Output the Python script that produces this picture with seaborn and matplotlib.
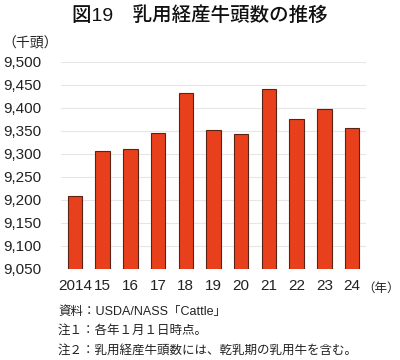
import matplotlib
matplotlib.use('Agg')
import matplotlib.pyplot as plt
import seaborn as sns
import pandas as pd
from matplotlib.ticker import FuncFormatter, MultipleLocator

# Data: dairy cows (thousand head), Jan 1 each year
years = ['2014', '15', '16', '17', '18', '19', '20', '21', '22', '23', '24']
cows = [9208, 9307, 9311, 9346, 9433, 9353, 9343, 9442, 9377, 9398, 9357]

df = pd.DataFrame({'year': years, 'cows': cows})

sns.set_style('white')
plt.rcParams['font.family'] = ['Liberation Sans', 'Noto Sans CJK JP', 'DejaVu Sans']

fig = plt.figure(figsize=(4, 3.6), dpi=100)
ax = fig.add_axes([0.1525, 0.2528, 0.7625, 0.575])

sns.barplot(data=df, x='year', y='cows', color='#E8401C', edgecolor='#5A2414',
            linewidth=0.8, width=0.52, saturation=1, ax=ax)

ax.set_ylim(9050, 9500)
ax.set_xlim(-0.5, 10.5)
ax.yaxis.set_major_locator(MultipleLocator(50))
ax.yaxis.set_major_formatter(FuncFormatter(lambda v, p: f'{int(v):,}'))
ax.grid(axis='y', color='#e6e6e6', linewidth=0.8)
ax.set_axisbelow(True)
for s in ax.spines.values():
    s.set_visible(False)
ax.tick_params(axis='both', length=0, labelsize=11, colors='#222222')
ax.tick_params(axis='y', pad=14)
ax.tick_params(axis='x', pad=7)
ax.set_xlabel('')
ax.set_ylabel('')

fig.text(0.5, 0.958, '図19\u3000乳用経産牛頭数の推移', ha='center', va='center',
         fontsize=14, fontweight='medium', color='#111111')
fig.text(0.005, 0.88, '（千頭）', ha='left', va='center', fontsize=10, color='#222222')
fig.text(0.999, 0.198, '（年）', ha='right', va='center', fontsize=9, color='#222222')

notes = ['資料：USDA/NASS「Cattle」',
         '注１：各年１月１日時点。',
         '注２：乳用経産牛頭数には、乾乳期の乳用牛を含む。']
for i, t in enumerate(notes):
    fig.text(0.145, 0.133 - i * 0.053, t, ha='left', va='center', fontsize=9, color='#222222')

fig.savefig('out.png', dpi=100)
